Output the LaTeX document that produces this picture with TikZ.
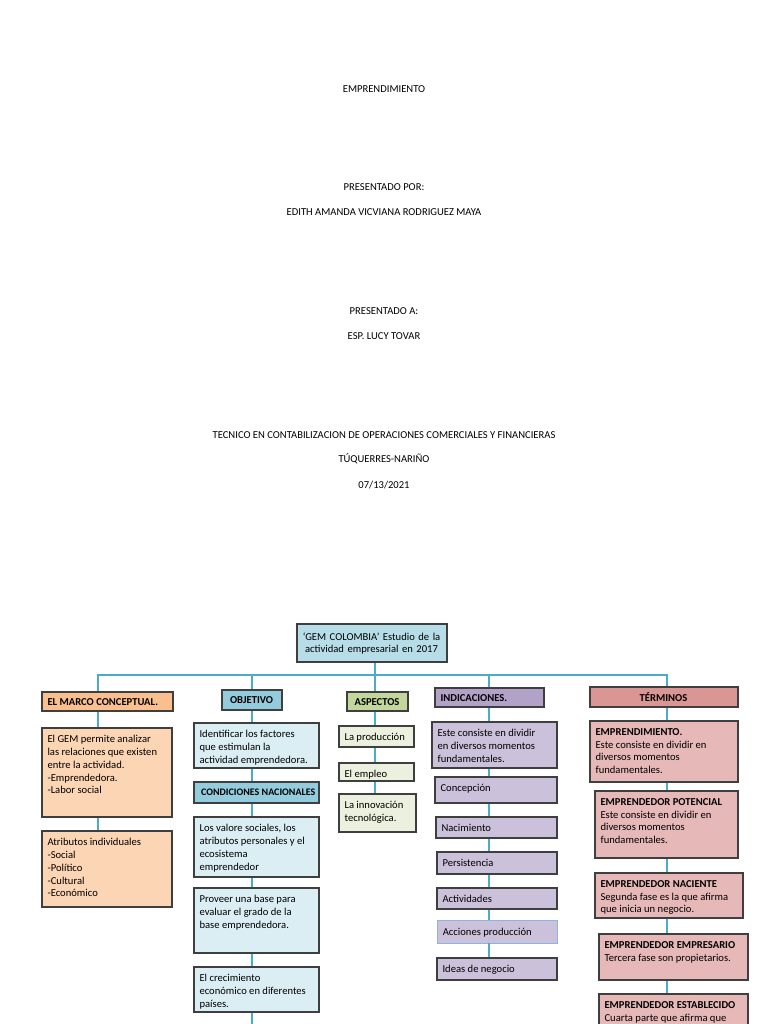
\documentclass[tikz,border=0pt]{standalone}
\usepackage{fontspec}
\setmainfont{Carlito}

\definecolor{linea}{HTML}{4BACC6}
\definecolor{borde}{HTML}{3F3F3F}
\definecolor{acciones}{HTML}{8EB4E3}
\definecolor{raizc}{HTML}{B7DEE8}
\definecolor{naranja}{HTML}{FABF8F}
\definecolor{naranjac}{HTML}{FCD5B5}
\definecolor{azul}{HTML}{93CDDD}
\definecolor{azulc}{HTML}{DBEEF4}
\definecolor{verde}{HTML}{C3D69B}
\definecolor{verdec}{HTML}{EBF1DE}
\definecolor{lila}{HTML}{B3A2C7}
\definecolor{lilac}{HTML}{CCC1DA}
\definecolor{rojo}{HTML}{D99694}
\definecolor{rojoc}{HTML}{E6B9B8}

\tikzset{
  caja/.style={draw=borde, line width=1.3pt, rectangle, inner sep=0pt},
  texto/.style={anchor=north west, inner xsep=6pt, inner ysep=8pt, align=left,
    font=\fontsize{10.6}{12.7}\selectfont},
  negrita/.style={texto, inner ysep=6.5pt, font=\fontsize{10.6}{12.7}\selectfont\bfseries},
  cabeza/.style={negrita, text width=\anchotexto pt, align=center},
  centro/.style={texto, inner ysep=9pt, text width=\anchotexto pt, align=center},
  pequena/.style={texto, inner xsep=7.5pt, inner ysep=7pt, font=\fontsize{10}{11}\selectfont\bfseries},
  titulo/.style={font=\fontsize{10.6}{12}\selectfont},
  conector/.style={draw=linea, line width=1.3pt}
}

% caja con su texto: [estilo texto]{nombre}{relleno}{x1}{y1}{x2}{y2}{texto}
\newcommand{\cajatexto}[8][texto]{%
  \pgfmathsetmacro{\anchocaja}{#6-#4}%
  \pgfmathsetmacro{\altocaja}{#7-#5}%
  \pgfmathsetmacro{\anchotexto}{#6-#4-12}%
  \node[caja, #3, minimum width=\anchocaja pt, minimum height=\altocaja pt] (#2) at ({(#4+#6)/2},{(#5+#7)/2}) {};
  \node[#1] (#2-t) at (#2.north west) {#8};}

\begin{document}
\begin{tikzpicture}[x=1pt,y=-1pt]
  \useasboundingbox (0,0) rectangle (768,1024);
  \fill[white] (0,0) rectangle (768,1024);
  \clip (0,0) rectangle (768,1024);

  \node[titulo] (tit) at (384,89) {EMPRENDIMIENTO};
  \node[titulo] (por) at (384,187) {PRESENTADO POR:};
  \node[titulo] (autora) at (384,212) {EDITH AMANDA VICVIANA RODRIGUEZ MAYA};
  \node[titulo] (para) at (384,311) {PRESENTADO A:};
  \node[titulo] (prof) at (384,336) {ESP. LUCY TOVAR};
  \node[titulo] (prog) at (384,435) {TECNICO EN CONTABILIZACION DE OPERACIONES COMERCIALES Y FINANCIERAS};
  \node[titulo] (lugar) at (384,459) {TÚQUERRES-NARIÑO};
  \node[titulo] (fecha) at (384,485) {07/13/2021};

  \cajatexto[centro]{raiz}{fill=raizc}{297}{624}{447}{662}{‘GEM COLOMBIA’ Estudio de la\\actividad empresarial en 2017}

  \cajatexto[negrita]{marco}{fill=naranja}{42}{692}{173}{711}{EL MARCO CONCEPTUAL.}
  \cajatexto{m1}{fill=naranjac}{42}{728}{172}{817}{El GEM permite analizar\\las relaciones que existen\\entre la actividad.\\-Emprendedora.\\-Labor social}
  \cajatexto{m2}{fill=naranjac}{42}{831}{172}{907}{Atributos individuales\\-Social\\-Político\\-Cultural\\-Económico}

  \cajatexto[cabeza]{objetivo}{fill=azul}{222}{690}{282}{710}{OBJETIVO}
  \cajatexto{o1}{fill=azulc}{194}{723}{319}{768}{Identificar los factores\\que estimulan la\\actividad emprendedora.}
  \cajatexto[pequena]{o2}{fill=azul}{194}{782}{319}{803}{CONDICIONES NACIONALES}
  \cajatexto{o3}{fill=azulc}{194}{817}{319}{877}{Los valore sociales, los\\atributos personales y el\\ecosistema\\emprendedor}
  \cajatexto{o4}{fill=azulc}{194}{888}{319}{953}{Proveer una base para\\evaluar el grado de la\\base emprendedora.}
  \cajatexto{o5}{fill=azulc}{194}{967}{319}{1012}{El crecimiento\\económico en diferentes\\países.}

  \cajatexto[cabeza]{aspectos}{fill=verde}{347}{692}{408}{711}{ASPECTOS}
  \cajatexto{a1}{fill=verdec}{339}{726}{414}{747}{La producción}
  \cajatexto{a2}{fill=verdec}{339}{763}{414}{781}{El empleo}
  \cajatexto{a3}{fill=verdec}{339}{794}{416}{832}{La innovación\\tecnológica.}

  \cajatexto[negrita]{indic}{fill=lila}{435}{688}{544}{707}{INDICACIONES.}
  \cajatexto{i1}{fill=lilac}{432}{722}{557}{768}{Este consiste en dividir\\en diversos momentos\\fundamentales.}
  \cajatexto{i2}{fill=lilac}{435}{777}{557}{803}{Concepción}
  \cajatexto{i3}{fill=lilac}{436}{817}{557}{838}{Nacimiento}
  \cajatexto{i4}{fill=lilac}{437}{852}{557}{874}{Persistencia}
  \cajatexto{i5}{fill=lilac}{437}{888}{557}{909}{Actividades}
  \cajatexto{i6}{fill=lilac, draw=acciones, line width=0.7pt}{437}{920}{557}{943}{Acciones producción}
  \cajatexto{i7}{fill=lilac}{437}{958}{557}{980}{Ideas de negocio}

  \cajatexto[cabeza]{terminos}{fill=rojo}{590}{687}{738}{707}{TÉRMINOS}
  \cajatexto{t1}{fill=rojoc}{590}{721}{738}{782}{\textbf{EMPRENDIMIENTO.}\\Este consiste en dividir en\\diversos momentos\\fundamentales.}
  \cajatexto{t2}{fill=rojoc}{595}{791}{738}{858}{\textbf{EMPRENDEDOR POTENCIAL}\\Este consiste en dividir en\\diversos momentos\\fundamentales.}
  \cajatexto{t3}{fill=rojoc}{595}{873}{743}{918}{\textbf{EMPRENDEDOR NACIENTE}\\Segunda fase es la que afirma\\que inicia un negocio.}
  \cajatexto{t4}{fill=rojoc}{599}{934}{748}{980}{\textbf{EMPRENDEDOR EMPRESARIO}\\Tercera fase son propietarios.}
  \cajatexto{t5}{fill=rojoc}{599}{994}{748}{1060}{\textbf{EMPRENDEDOR ESTABLECIDO}\\Cuarta parte que afirma que}

  \coordinate (ejeA) at (98,0);
  \coordinate (ejeB) at (252,0);
  \coordinate (ejeC) at (375,0);
  \coordinate (ejeD) at (489,0);
  \coordinate (ejeE) at (667,0);
  \coordinate (bus) at (0,675);

  \draw[conector] (raiz.south -| ejeC) -- (aspectos.north -| ejeC);
  \draw[conector] (marco.north -| ejeA) |- (bus -| ejeE) -- (terminos.north -| ejeE);
  \draw[conector] (objetivo.north -| ejeB) -- (bus -| ejeB);
  \draw[conector] (indic.north -| ejeD) -- (bus -| ejeD);
  \foreach \a/\b/\e in {marco/m1/ejeA, m1/m2/ejeA,
      objetivo/o1/ejeB, o1/o2/ejeB, o2/o3/ejeB, o3/o4/ejeB, o4/o5/ejeB,
      aspectos/a1/ejeC, a1/a2/ejeC, a2/a3/ejeC,
      indic/i1/ejeD, i1/i2/ejeD, i2/i3/ejeD, i3/i4/ejeD, i4/i5/ejeD, i5/i6/ejeD, i6/i7/ejeD,
      terminos/t1/ejeE, t1/t2/ejeE, t2/t3/ejeE, t3/t4/ejeE, t4/t5/ejeE}
    \draw[conector] (\a.south -| \e) -- (\b.north -| \e);
  \draw[conector] (o5.south -| ejeB) -- ++(0,20);
\end{tikzpicture}
\end{document}
